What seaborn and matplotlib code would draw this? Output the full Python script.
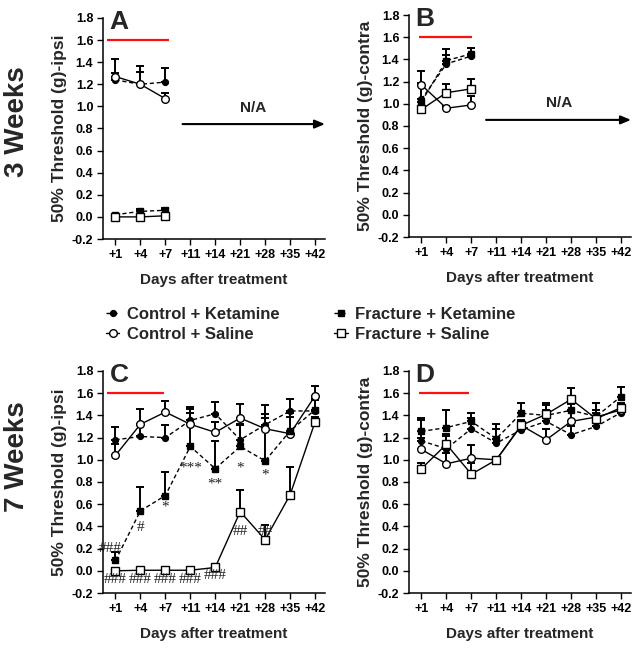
import numpy as np
import pandas as pd
import matplotlib
matplotlib.use("Agg")
import matplotlib.pyplot as plt
import seaborn as sns

sns.set_style("ticks")
plt.rcParams['font.family'] = ['Liberation Sans', 'DejaVu Sans']
plt.rcParams['font.weight'] = 'bold'
plt.rcParams['axes.labelweight'] = 'bold'
plt.rcParams['axes.unicode_minus'] = False

DAYS = ['+1', '+4', '+7', '+11', '+14', '+21', '+28', '+35', '+42']
GROUPS = ['Control + Ketamine', 'Control + Saline', 'Fracture + Ketamine', 'Fracture + Saline']
BASELINE = 1.6

# 3 weeks, ipsilateral (only +1..+7 measured)
a_ck = [1.24, 1.20, 1.22]
a_ck_err = [0.06, 0.17, 0.13]
a_cs = [1.27, 1.20, 1.07]
a_cs_err = [0.16, 0.11, 0.05]
a_fk = [0.02, 0.05, 0.06]
a_fk_err = [0.01, 0.02, 0.02]
a_fs = [0.00, 0.00, 0.01]
a_fs_err = [0.01, 0.01, 0.01]

# 3 weeks, contralateral
b_ck = [1.04, 1.36, 1.43]
b_ck_err = [0.15, 0.08, 0.07]
b_cs = [1.17, 0.96, 0.99]
b_cs_err = [0.13, 0.02, 0.08]
b_fk = [1.02, 1.39, 1.45]
b_fk_err = [0.17, 0.10, 0.05]
b_fs = [0.95, 1.10, 1.135]
b_fs_err = [0.02, 0.075, 0.09]

# 7 weeks, ipsilateral
c_ck = [1.18, 1.21, 1.20, 1.355, 1.415, 1.18, 1.316, 1.44, 1.44]
c_ck_err = [0.115, 0.10, 0.11, 0.105, 0.105, 0.13, 0.10, 0.11, 0.10]
c_cs = [1.04, 1.32, 1.43, 1.32, 1.247, 1.376, 1.28, 1.235, 1.575]
c_cs_err = [0.10, 0.14, 0.10, 0.10, 0.09, 0.125, 0.10, 0.15, 0.09]
c_fk = [0.093, 0.54, 0.678, 1.12, 0.92, 1.12, 0.99, 1.26, 1.45]
c_fk_err = [0.073, 0.216, 0.208, 0.356, 0.246, 0.20, 0.50, 0.16, 0.10]
c_fs = [0.0, 0.005, 0.005, 0.005, 0.03, 0.533, 0.28, 0.684, 1.34]
c_fs_err = [0.01, 0.01, 0.01, 0.01, 0.01, 0.197, 0.136, 0.25, 0.05]

# 7 weeks, contralateral
d_ck = [1.17, 1.10, 1.28, 1.15, 1.27, 1.346, 1.226, 1.30, 1.425]
d_ck_err = [0.19, 0.13, 0.10, 0.17, 0.05, 0.10, 0.08, 0.08, 0.05]
d_cs = [1.093, 0.964, 1.015, 1.0, 1.31, 1.18, 1.346, 1.385, 1.45]
d_cs_err = [0.10, 0.10, 0.12, 0.02, 0.05, 0.10, 0.09, 0.06, 0.05]
d_fk = [1.256, 1.29, 1.346, 1.19, 1.42, 1.40, 1.446, 1.39, 1.57]
d_fk_err = [0.125, 0.16, 0.075, 0.09, 0.09, 0.09, 0.06, 0.12, 0.09]
d_fs = [0.92, 1.14, 0.87, 1.0, 1.31, 1.41, 1.545, 1.37, 1.47]
d_fs_err = [0.05, 0.07, 0.10, 0.02, 0.04, 0.10, 0.10, 0.05, 0.04]

# significance marks in panel C: (day, y, text)
c_marks_hash = [('+1', -0.08, '###'), ('+4', -0.08, '###'), ('+7', -0.08, '###'),
                ('+11', -0.08, '###'), ('+14', -0.045, '###'),
                ('+4', 0.39, '#'), ('+21', 0.35, '##'), ('+28', 0.35, '##')]
c_marks_star = [('+7', 0.57, '*'), ('+11', 0.93, '***'), ('+14', 0.78, '**'),
                ('+21', 0.93, '*'), ('+28', 0.86, '*')]

STYLE = {
    'Control + Ketamine': dict(marker='o', linestyle=(0, (3, 2)), markersize=4.2, markerfacecolor='black'),
    'Control + Saline': dict(marker='o', linestyle='-', markersize=5.5, markerfacecolor='white'),
    'Fracture + Ketamine': dict(marker='s', linestyle=(0, (3, 2)), markersize=4.5, markerfacecolor='black'),
    'Fracture + Saline': dict(marker='s', linestyle='-', markersize=5.2, markerfacecolor='white'),
}


def draw_panel(ax, series, letter, ylabel, red_span):
    for name, vals, errs in series:
        n = len(vals)
        pos = np.arange(n)
        ax.errorbar(pos, vals, yerr=[np.zeros(n), errs], fmt='none', ecolor='black',
                    elinewidth=1.4, capsize=2.6, capthick=1.4, zorder=2)
        sns.pointplot(x=DAYS[:n], y=vals, order=DAYS, ax=ax, color='black', errorbar=None,
                      linewidth=1.0, markeredgewidth=1.0, markeredgecolor='black',
                      label=name, zorder=3, **STYLE[name])
    if ax.get_legend() is not None:
        ax.get_legend().remove()
    ax.hlines(BASELINE, red_span[0], red_span[1], color='#ff1010', lw=1.6, zorder=1)
    ax.set_xlim(-0.5, 8.4)
    ax.set_ylim(-0.2, 1.8)
    ax.set_yticks(np.arange(-0.2, 1.81, 0.2))
    ax.set_yticklabels([f'{v:.1f}' for v in np.arange(-0.2, 1.81, 0.2)], fontweight='bold')
    ax.set_xticks(range(len(DAYS)))
    ax.set_xticklabels(DAYS, fontweight='bold')
    ax.tick_params(direction='out', length=4, width=1.0, labelsize=9, pad=3, colors='black')
    for side in ['left', 'bottom']:
        ax.spines[side].set_linewidth(1.1)
        ax.spines[side].set_color('black')
    sns.despine(ax=ax)
    ax.set_xlabel('Days after treatment', fontsize=11, fontweight='bold')
    ax.set_ylabel(ylabel, fontsize=12.5, fontweight='bold')
    ax.xaxis.set_label_coords(0.5, -0.155)
    ax.yaxis.set_label_coords(-0.16, 0.5)
    ax.text(0.03, 0.952, letter, transform=ax.transAxes, fontsize=19, fontweight='bold',
            va='baseline', ha='left')


def add_na(ax, y_arrow, x_start, y_text):
    ax.annotate('', xy=(8.4, y_arrow), xytext=(x_start, y_arrow), annotation_clip=False,
                arrowprops=dict(arrowstyle='-|>,head_length=0.6,head_width=0.25', lw=1.5,
                                color='black', shrinkA=0, shrinkB=0))
    ax.text(5.5, y_text, 'N/A', fontsize=11, fontweight='bold', ha='center', va='center')


fig = plt.figure(figsize=(6.38, 6.48), dpi=100)
axA = fig.add_axes([103 / 638, 1 - 239 / 648, 222 / 638, 221 / 648])
axB = fig.add_axes([409 / 638, 1 - 237 / 648, 222 / 638, 222 / 648])
axC = fig.add_axes([103 / 638, 1 - 593 / 648, 222 / 638, 222 / 648])
axD = fig.add_axes([409 / 638, 1 - 593 / 648, 222 / 638, 222 / 648])

draw_panel(axA, [(GROUPS[0], a_ck, a_ck_err), (GROUPS[1], a_cs, a_cs_err),
                 (GROUPS[2], a_fk, a_fk_err), (GROUPS[3], a_fs, a_fs_err)],
           'A', '50% Threshold (g)-ipsi', (-0.32, 2.13))
draw_panel(axB, [(GROUPS[0], b_ck, b_ck_err), (GROUPS[1], b_cs, b_cs_err),
                 (GROUPS[2], b_fk, b_fk_err), (GROUPS[3], b_fs, b_fs_err)],
           'B', '50% Threshold (g)-contra', (-0.08, 2.03))
draw_panel(axC, [(GROUPS[0], c_ck, c_ck_err), (GROUPS[1], c_cs, c_cs_err),
                 (GROUPS[2], c_fk, c_fk_err), (GROUPS[3], c_fs, c_fs_err)],
           'C', '50% Threshold (g)-ipsi', (-0.32, 1.93))
draw_panel(axD, [(GROUPS[0], d_ck, d_ck_err), (GROUPS[1], d_cs, d_cs_err),
                 (GROUPS[2], d_fk, d_fk_err), (GROUPS[3], d_fs, d_fs_err)],
           'D', '50% Threshold (g)-contra', (-0.08, 1.9))

add_na(axA, 0.84, 2.69, 0.99)
add_na(axB, 0.855, 2.59, 1.01)

# significance marks
mark_font = dict(family=['Liberation Serif', 'DejaVu Serif'], fontsize=11, fontweight='normal',
                 color='#222222', ha='center', va='center', zorder=4)
axC.text(-0.2, 0.2, '###', clip_on=False, **mark_font)
for day, y, txt in c_marks_hash + c_marks_star:
    axC.text(DAYS.index(day), y, txt, **mark_font)

# legend
handles, labels = axC.get_legend_handles_labels()
fig.legend(handles, labels, ncol=2, loc='upper left', bbox_to_anchor=(106 / 638, 1 - 307 / 648),
           frameon=False, prop={'size': 12, 'weight': 'bold', 'family': ['Liberation Sans']},
           handlelength=0.8, handletextpad=0.45, columnspacing=3.3,
           labelspacing=0.3, borderpad=0, borderaxespad=0, numpoints=1)

fig.text(17 / 638, 1 - 122 / 648, '3 Weeks', rotation=90, fontsize=20, fontweight='bold',
         ha='center', va='center')
fig.text(17 / 638, 1 - 457 / 648, '7 Weeks', rotation=90, fontsize=20, fontweight='bold',
         ha='center', va='center')

fig.savefig('out.png', dpi=100)
